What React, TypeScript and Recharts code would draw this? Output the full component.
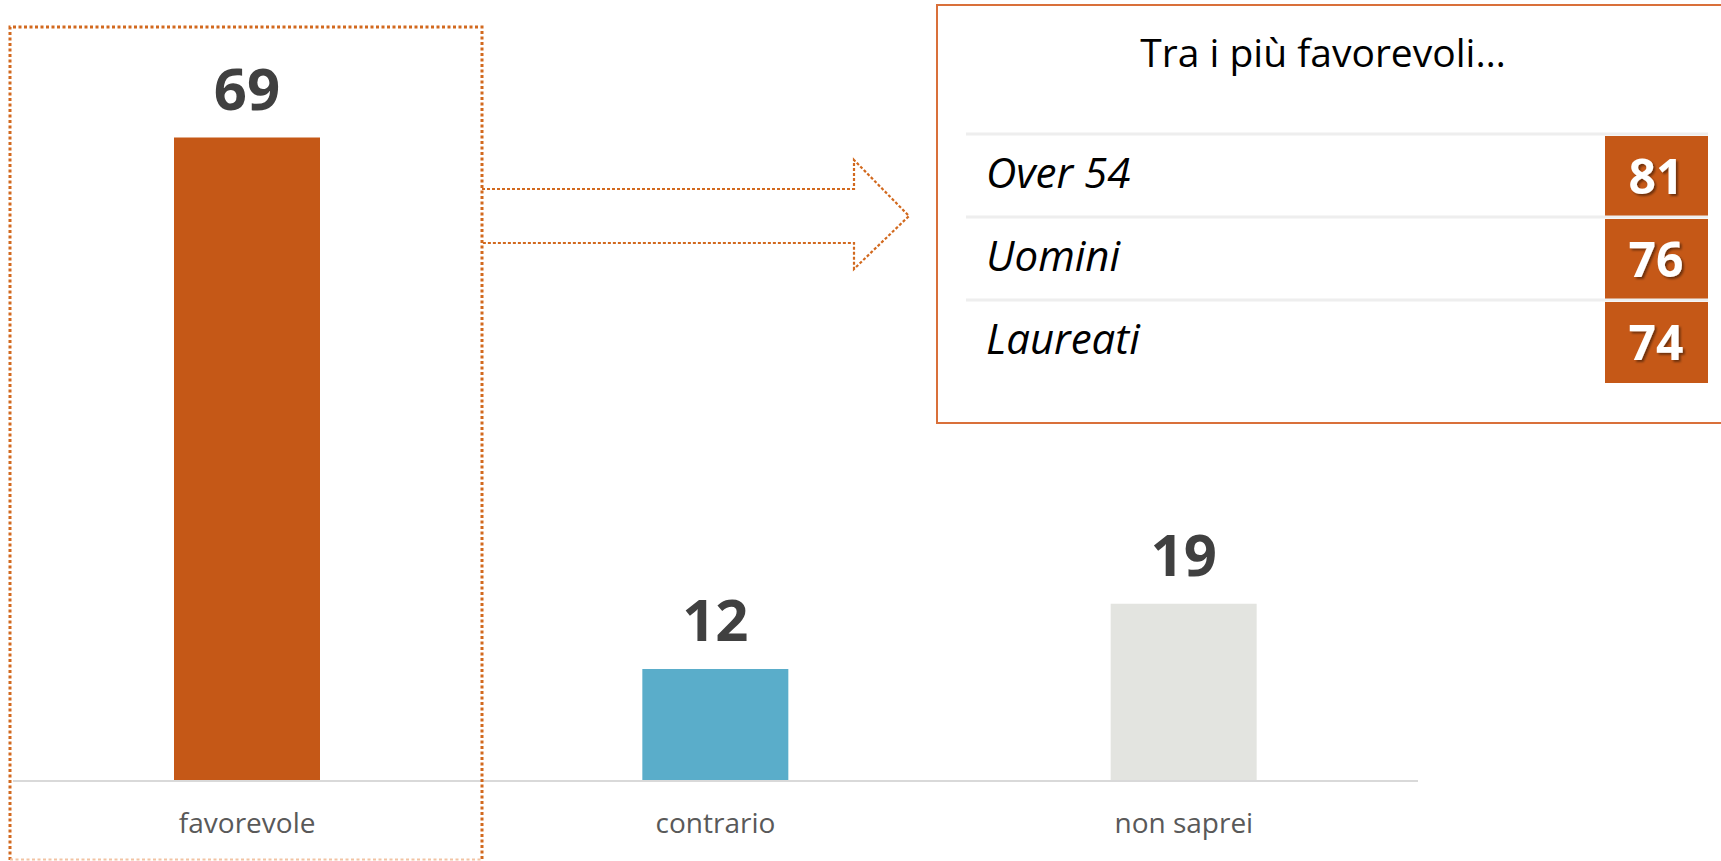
import React from 'react';
import { BarChart, Bar, XAxis, YAxis, LabelList, Cell } from 'recharts';

const categories = ['favorevole', 'contrario', 'non saprei'];
const values = [69, 12, 19];
const barColors = ['#C55817', '#5AADCA', '#E3E4E0'];

const tableTitle = 'Tra i più favorevoli…';
const groupLabels = ['Over 54', 'Uomini', 'Laureati'];
const groupValues = [81, 76, 74];

const data = categories.map((name, i) => ({ name, value: values[i], fill: barColors[i] }));

const FONT = '"Open Sans", sans-serif';
const ORANGE = '#C55817';
const DOT_ORANGE = '#D2691E';

const CategoryTick = (props: any) => {
  const { x, y, payload } = props;
  return (
    <text x={x} y={y} dy={44} textAnchor="middle" fill="#595959" fontSize={28} fontFamily={FONT}>
      {payload.value}
    </text>
  );
};

const Overlay: React.FC = () => {
  const rowTop = 135;
  const rowH = 83;
  return (
    <svg width={1721} height={861} style={{ position: 'absolute', left: 0, top: 0, pointerEvents: 'none' }}>
      <defs>
        <filter id="shadow" x="-20%" y="-20%" width="140%" height="140%">
          <feDropShadow dx="2" dy="2" stdDeviation="1" floodColor="#000" floodOpacity="0.45" />
        </filter>
      </defs>
      {/* dotted highlight around favorevole */}
      <path
        d="M10,860 L10,27 L482,27 L482,860"
        fill="none"
        stroke={DOT_ORANGE}
        strokeWidth={3}
        strokeDasharray="3 2.5"
      />
      <line x1={10} x2={482} y1={859.5} y2={859.5} stroke="#F2C3A3" strokeWidth={2} strokeDasharray="3 2.5" />
      {/* dotted arrow */}
      <polyline
        points="482,189 854,189 854,160 909,216 854,269 854,243 482,243"
        fill="none"
        stroke={DOT_ORANGE}
        strokeWidth={2.2}
        strokeDasharray="3 2"
      />
      {/* table box */}
      <rect x={937} y={5} width={800} height={418} fill="#fff" stroke="#D9703A" strokeWidth={2} />
      <text x={1323} y={67} textAnchor="middle" fontSize={39} fontFamily={FONT} fill="#000">
        {tableTitle}
      </text>
      {groupLabels.map((label, i) => {
        const top = rowTop + i * rowH;
        return (
          <g key={label}>
            <line x1={966} x2={1708} y1={top - 1} y2={top - 1} stroke="#EEEEEE" strokeWidth={3} />
            <rect x={1605} y={top + 1} width={103} height={rowH - 2} fill={ORANGE} />
            <text x={986} y={top + 53} fontSize={42} fontStyle="italic" fontFamily={FONT} fill="#000">
              {label}
            </text>
            <text
              x={1656}
              y={top + 59}
              textAnchor="middle"
              fontSize={48}
              fontWeight={700}
              fontFamily={FONT}
              fill="#fff"
              filter="url(#shadow)"
            >
              {groupValues[i]}
            </text>
          </g>
        );
      })}
    </svg>
  );
};

const App: React.FC = () => {
  return (
    <div style={{ position: 'absolute', left: 0, top: 0, width: 1721, height: 861, background: '#fff' }}>
      <BarChart width={1721} height={861} data={data} margin={{ top: 35, right: 303, bottom: 0, left: 13 }}>
        <XAxis
          dataKey="name"
          height={80}
          axisLine={{ stroke: '#D9D9D9', strokeWidth: 2 }}
          tickLine={false}
          tick={<CategoryTick />}
          interval={0}
        />
        <YAxis hide domain={[0, 80]} />
        <Bar dataKey="value" barSize={146} isAnimationActive={false}>
          {data.map((d) => (
            <Cell key={d.name} fill={d.fill} />
          ))}
          <LabelList
            dataKey="value"
            position="top"
            offset={28}
            fill="#404040"
            fontSize={58}
            fontWeight={700}
            fontFamily={FONT}
          />
        </Bar>
      </BarChart>
      <Overlay />
    </div>
  );
};

export default App;
